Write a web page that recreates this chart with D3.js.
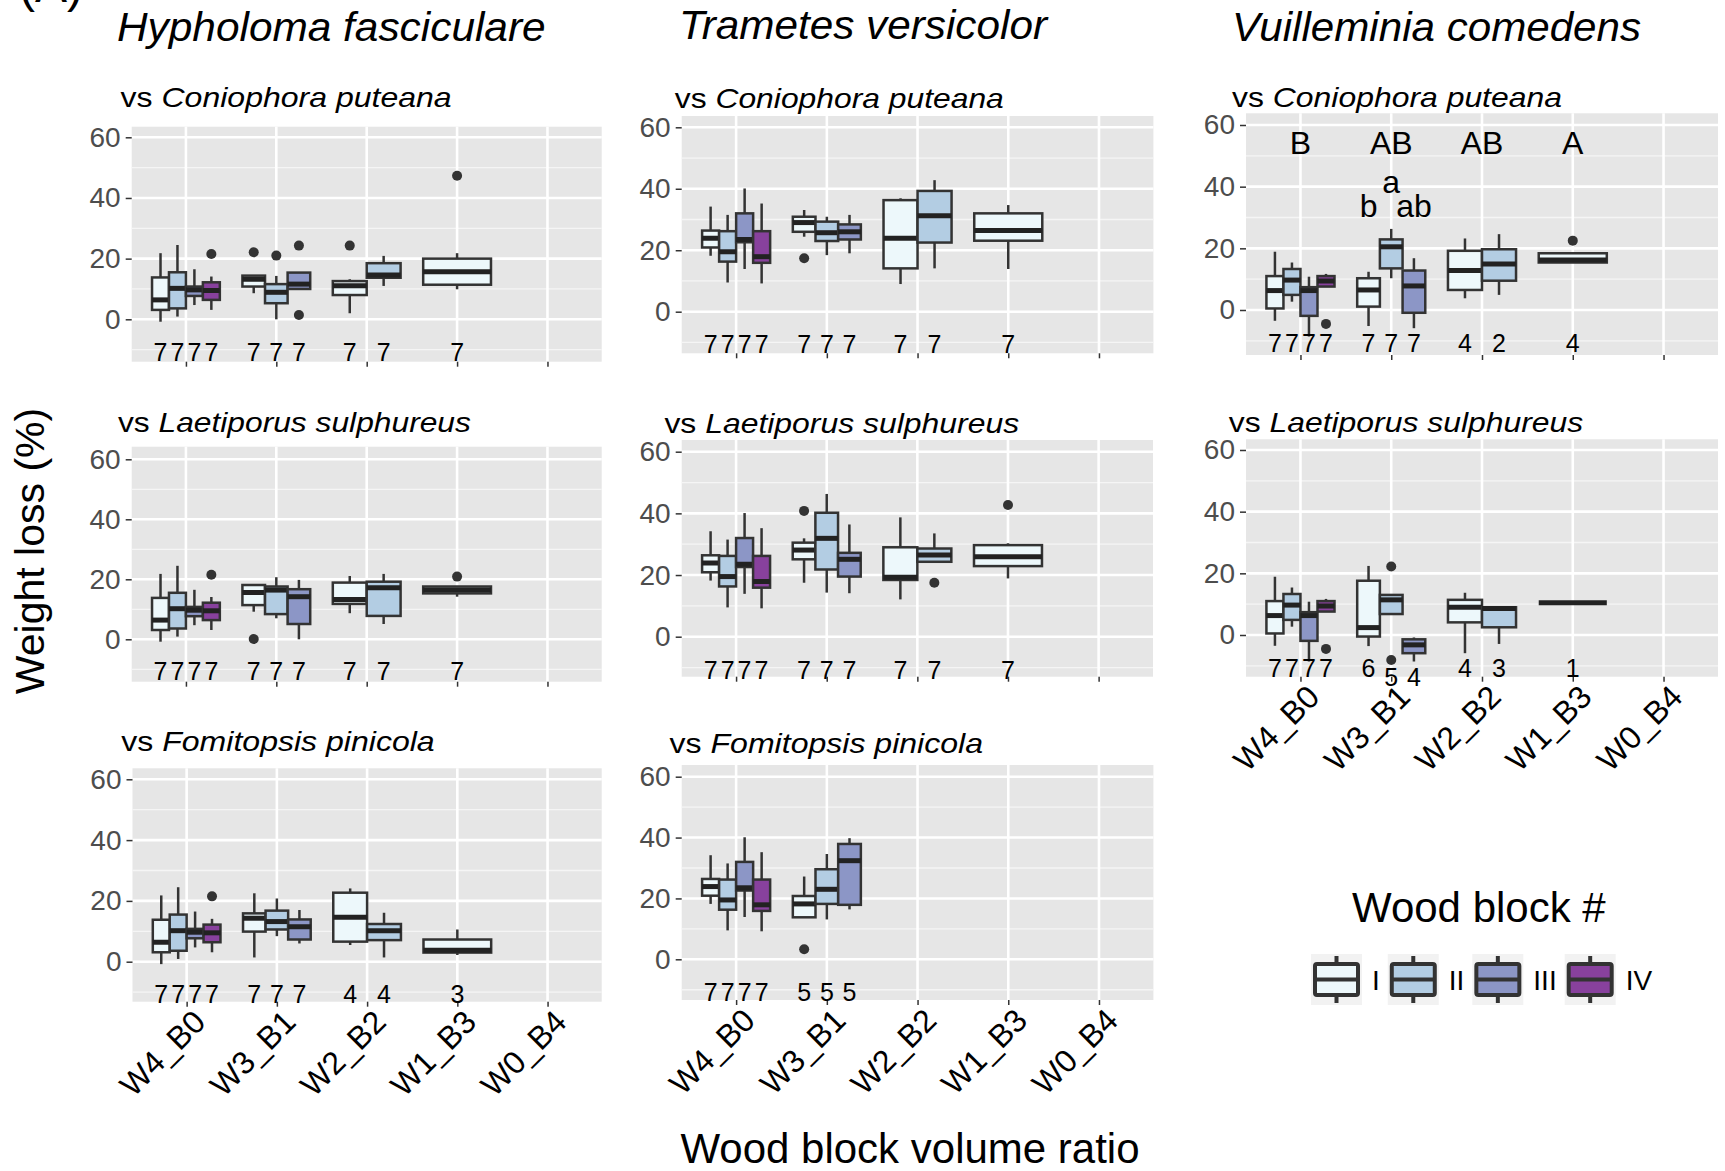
<!DOCTYPE html>
<html><head><meta charset="utf-8">
<script src="https://cdn.jsdelivr.net/npm/d3@7"></script>
<style>body{margin:0;background:#fff}</style>
</head><body>
<svg id="chart" width="1725" height="1171"></svg>
<script>
// ---------------- DATA ----------------
const categories = ["W4_B0", "W3_B1", "W2_B2", "W1_B3", "W0_B4"];
const blocks = ["I", "II", "III", "IV"];
const blockColors = ["#EDF8FB", "#B3CDE3", "#8C96C6", "#88419D"];
const yTicks = [0, 20, 40, 60];
const yMinor = [-10, 10, 30, 50];
const columnTitles = ["Hypholoma fasciculare", "Trametes versicolor", "Vuilleminia comedens"];
const opponents = ["Coniophora puteana", "Laetiporus sulphureus", "Fomitopsis pinicola"];

// box stats: [category, block, [lowerWhisker, q1, median, q3, upperWhisker], outliers]
const hfControl = [
  ["W4_B0", "I",   [-0.8, 3.1, 6.4, 13.8, 21.8], []],
  ["W4_B0", "II",  [0.9, 3.6, 10.2, 15.5, 24.5], []],
  ["W4_B0", "III", [4.7, 7.7, 9.7, 10.8, 16.5], []],
  ["W4_B0", "IV",  [3.1, 6.4, 9.5, 12.2, 14.1], [21.5]]
];
const hfVsCp = [
  ["W3_B1", "I",   [8.6, 10.8, 13.2, 14.4, 14.4], [22.1]],
  ["W3_B1", "II",  [0, 5.3, 8.9, 11.6, 14.3], [21]],
  ["W3_B1", "III", [10, 10, 11.6, 15.4, 15.4], [24.3, 1.4]],
  ["W2_B2", "I",   [2, 8, 11.1, 12.6, 13.2], [24.3]],
  ["W2_B2", "II",  [11, 13.7, 14.6, 18.5, 20.9], []],
  ["W1_B3", "I",   [9.9, 11.4, 15.7, 20, 21.8], [47.3]]
];
const hfVsLs = [
  ["W3_B1", "I",   [9.2, 11.4, 15.6, 18.1, 18.4], [0.1]],
  ["W3_B1", "II",  [7, 8.4, 16.4, 17.6, 20.7], []],
  ["W3_B1", "III", [0, 5.1, 14.2, 16.7, 19.8], []],
  ["W2_B2", "I",   [8.7, 11.8, 13.3, 18.9, 21.1], []],
  ["W2_B2", "II",  [5.1, 7.8, 17.2, 19.2, 21.8], []],
  ["W1_B3", "I",   [14.2, 15.3, 16.4, 17.6, 17.6], [20.9]]
];
const hfVsFp = [
  ["W3_B1", "I",   [1.4, 9.9, 14.3, 15.9, 22.5], []],
  ["W3_B1", "II",  [8.4, 10.6, 13.2, 16.8, 20.8], []],
  ["W3_B1", "III", [6, 7.3, 11.5, 13.9, 17], []],
  ["W2_B2", "I",   [5.5, 6.6, 14.6, 22.7, 24.1], []],
  ["W2_B2", "II",  [1.4, 7.1, 10.2, 12.4, 16.1], []],
  ["W1_B3", "I",   [2.2, 3, 3.8, 7.3, 10.6], []]
];
const tvControl = [
  ["W4_B0", "I",   [18.2, 20.9, 23.9, 26.4, 34.2], []],
  ["W4_B0", "II",  [9.5, 16.3, 19.5, 26.2, 31.5], []],
  ["W4_B0", "III", [13.9, 22.6, 23.5, 32, 40.1], []],
  ["W4_B0", "IV",  [9.2, 15.9, 17.9, 26.2, 35.2], []]
];
const tvVsCp = [
  ["W3_B1", "I",   [24.4, 26, 29, 30.9, 33.1], [17.4]],
  ["W3_B1", "II",  [18.4, 23, 25.7, 29.3, 30.9], []],
  ["W3_B1", "III", [19, 23.5, 26, 28.4, 31.5], []],
  ["W2_B2", "I",   [9, 14.1, 23.9, 36.3, 36.9], []],
  ["W2_B2", "II",  [14.1, 22.5, 31.2, 39.3, 42.8], []],
  ["W1_B3", "I",   [13.9, 23.1, 26.4, 32, 34.7], []]
];
const tvVsLs = [
  ["W3_B1", "I",   [17.5, 25.1, 28.1, 30.5, 31.9], [40.8]],
  ["W3_B1", "II",  [14.3, 21.8, 31.9, 40.2, 46.3], []],
  ["W3_B1", "III", [14.1, 19.5, 25.1, 27.2, 36.4], []],
  ["W2_B2", "I",   [12.1, 18.4, 19.3, 29, 38.7], []],
  ["W2_B2", "II",  [24.3, 24.3, 26.5, 28.6, 33.5], [17.5]],
  ["W1_B3", "I",   [18.9, 22.9, 25.9, 29.7, 30.3], [42.7]]
];
const tvVsFp = [
  ["W3_B1", "I",   [13.8, 13.8, 18.2, 20.8, 27.2], [3.3]],
  ["W3_B1", "II",  [13.1, 18.2, 23, 29.6, 34.6], []],
  ["W3_B1", "III", [16.4, 17.9, 32.4, 37.9, 39.8], []]
];
const vcControl = [
  ["W4_B0", "I",   [-3.5, 0.5, 6.3, 11, 18.9], []],
  ["W4_B0", "II",  [2.7, 4.9, 9.7, 13.3, 15.4], []],
  ["W4_B0", "III", [-8.6, -1.9, 6.3, 7.4, 10.8], []],
  ["W4_B0", "IV",  [7.6, 7.6, 9.4, 11, 11.7], [-4.5]]
];
const vcVsCp = [
  ["W3_B1", "I",   [-5.2, 1.1, 6.5, 10.3, 12.4], []],
  ["W3_B1", "II",  [10.3, 13.5, 20.5, 22.9, 26.3], []],
  ["W3_B1", "III", [-5.9, -0.9, 7.8, 12.8, 16.8], []],
  ["W2_B2", "I",   [3.8, 6.5, 12.8, 19.2, 23.2], []],
  ["W2_B2", "II",  [4.9, 9.5, 14.9, 19.7, 24.6], []],
  ["W1_B3", "I",   [15.4, 15.4, 16.2, 18.4, 18.4], [22.5]]
];
const vcVsLs = [
  ["W3_B1", "I",   [-3.6, -0.5, 2.4, 17.6, 22.4], []],
  ["W3_B1", "II",  [6.8, 6.8, 11.4, 13, 13.3], [22.2, -8.1]],
  ["W3_B1", "III", [-8.6, -5.9, -3.2, -1.4, -0.8], []],
  ["W2_B2", "I",   [-5.9, 4.1, 9, 11.4, 13.7], []],
  ["W2_B2", "II",  [-2.9, 2.5, 8.6, 9, 9], []],
  ["W1_B3", "I",   [10.5, 10.5, 10.5, 10.5, 10.5], []]
];

// sample sizes shown under the boxes: [category, n per box, label y value per box]
const nFull = [["W4_B0", [7, 7, 7, 7]], ["W3_B1", [7, 7, 7]], ["W2_B2", [7, 7]], ["W1_B3", [7]]];
const nVcCp = [["W4_B0", [7, 7, 7, 7]], ["W3_B1", [7, 7, 7]], ["W2_B2", [4, 2]], ["W1_B3", [4]]];
const nVcLs = [["W4_B0", [7, 7, 7, 7]], ["W3_B1", [6, 5, 4], [-13.6, -16.4, -16.4]], ["W2_B2", [4, 3]], ["W1_B3", [1]]];
const nHfFp = [["W4_B0", [7, 7, 7, 7]], ["W3_B1", [7, 7, 7]], ["W2_B2", [4, 4]], ["W1_B3", [3]]];
const nTvFp = [["W4_B0", [7, 7, 7, 7]], ["W3_B1", [5, 5, 5]]];
const nLabelY = -13.6;

// significance letters (Vuilleminia vs Coniophora)
const groupLetters = [["W4_B0", "B"], ["W3_B1", "AB"], ["W2_B2", "AB"], ["W1_B3", "A"]];
const groupLetterY = 50.7;
const blockLetters = [["W3_B1", 0, "b", 30.1], ["W3_B1", 1, "a", 37.9], ["W3_B1", 2, "ab", 30.1]];

// ---------------- LAYOUT ----------------
const FONT = "'Liberation Sans', Arial, Helvetica, sans-serif";
const panels = [
  {col: 0, opp: 0, boxes: hfControl.concat(hfVsCp), n: nFull, x0: 131.7, x1: 601.7, top: 126.7, bottom: 361.7, yZero: 319.3, ySixty: 137.3, sub: [120.6, 106.7, 331]},
  {col: 1, opp: 0, boxes: tvControl.concat(tvVsCp), n: nFull, x0: 681.7, x1: 1153.4, top: 116, bottom: 353.3, yZero: 311.7, ySixty: 127.3, sub: [674.8, 108.3, 329]},
  {col: 2, opp: 0, boxes: vcControl.concat(vcVsCp), n: nVcCp, x0: 1246, x1: 1718, top: 113.3, bottom: 355, yZero: 310, ySixty: 125, sub: [1232, 107.3, 330], letters: true},
  {col: 0, opp: 1, boxes: hfControl.concat(hfVsLs), n: nFull, x0: 131.7, x1: 601.7, top: 446.7, bottom: 681.7, yZero: 639.3, ySixty: 459.3, sub: [117.9, 431.7, 353]},
  {col: 1, opp: 1, boxes: tvControl.concat(tvVsLs), n: nFull, x0: 681.7, x1: 1153, top: 440, bottom: 676.7, yZero: 636.7, ySixty: 451.7, sub: [664.4, 433.3, 354.7]},
  {col: 2, opp: 1, boxes: vcControl.concat(vcVsLs), n: nVcLs, x0: 1246, x1: 1718, top: 439.3, bottom: 676.7, yZero: 635, ySixty: 450, sub: [1228.7, 432.3, 354.5], xLabels: true},
  {col: 0, opp: 2, boxes: hfControl.concat(hfVsFp), n: nHfFp, x0: 132.5, x1: 601.7, top: 768.3, bottom: 1001.7, yZero: 961.7, ySixty: 779.3, sub: [121.3, 750.7, 313.4], xLabels: true},
  {col: 1, opp: 2, boxes: tvControl.concat(tvVsFp), n: nTvFp, x0: 681.7, x1: 1153.4, top: 765, bottom: 1000, yZero: 959.3, ySixty: 776.7, sub: [669.6, 753.3, 313.4], xLabels: true}
];
const colTitlePos = [[117, 40.7, 428.6], [679, 38.5, 368], [1232, 40.7, 409]];

const svg = d3.select("#chart");
svg.append("rect").attr("width", 1725).attr("height", 1171).attr("fill", "#fff");

// cropped panel tag at top-left (only its lower edge is visible, as in the source figure)
svg.append("text").attr("x", 19).attr("y", 2).attr("font-family", FONT).attr("font-size", 48).text("(A)");

// column titles
columnTitles.forEach((t, i) => {
  const [x, y, len] = colTitlePos[i];
  svg.append("text").attr("x", x).attr("y", y).attr("font-family", FONT).attr("font-size", 40)
    .attr("font-style", "italic").attr("textLength", len).attr("lengthAdjust", "spacingAndGlyphs").text(t);
});

const colorOf = d3.scaleOrdinal().domain(blocks).range(blockColors);
const STROKE = "#333333";

panels.forEach(p => {
  const g = svg.append("g");
  const x = d3.scalePoint().domain(categories).range([p.x0, p.x1]).padding(0.6);
  const y = d3.scaleLinear().domain([0, 60]).range([p.yZero, p.ySixty]);
  const step = x.step();
  const dodge = 0.75 * step;

  // subtitle
  const sub = g.append("text").attr("x", p.sub[0]).attr("y", p.sub[1]).attr("font-family", FONT).attr("font-size", 28)
    .attr("textLength", p.sub[2]).attr("lengthAdjust", "spacingAndGlyphs");
  sub.append("tspan").text("vs ");
  sub.append("tspan").attr("font-style", "italic").text(opponents[p.opp]);

  // background + grid
  g.append("rect").attr("x", p.x0).attr("y", p.top).attr("width", p.x1 - p.x0).attr("height", p.bottom - p.top).attr("fill", "#E6E6E6");
  g.selectAll(".minor").data(yMinor).join("line")
    .attr("x1", p.x0).attr("x2", p.x1).attr("y1", d => y(d)).attr("y2", d => y(d))
    .attr("stroke", "#F5F5F5").attr("stroke-width", 1.3);
  g.selectAll(".major").data(yTicks).join("line")
    .attr("x1", p.x0).attr("x2", p.x1).attr("y1", d => y(d)).attr("y2", d => y(d))
    .attr("stroke", "#FFFFFF").attr("stroke-width", 2.6);
  g.selectAll(".vmajor").data(categories).join("line")
    .attr("x1", d => x(d)).attr("x2", d => x(d)).attr("y1", p.top).attr("y2", p.bottom)
    .attr("stroke", "#FFFFFF").attr("stroke-width", 2.6);

  // y axis
  const ya = g.append("g").attr("transform", `translate(${p.x0},0)`)
    .call(d3.axisLeft(y).tickValues(yTicks).tickSize(6).tickPadding(5));
  ya.select(".domain").remove();
  ya.selectAll(".tick line").attr("stroke", STROKE).attr("stroke-width", 1.5);
  ya.selectAll(".tick text").attr("font-size", 28).attr("font-family", FONT).attr("fill", "#4D4D4D");

  // x axis
  const xa = g.append("g").attr("transform", `translate(0,${p.bottom})`)
    .call(d3.axisBottom(x).tickSize(5).tickFormat(p.xLabels ? (d => d) : () => ""));
  xa.select(".domain").remove();
  xa.selectAll(".tick line").attr("stroke", STROKE).attr("stroke-width", 1.5);
  xa.selectAll(".tick text").attr("font-size", 32).attr("font-family", FONT).attr("fill", "#000")
    .attr("x", 0).attr("y", 0).attr("dy", "0.72em").attr("text-anchor", "end")
    .attr("transform", "translate(4,6) rotate(-45)");

  // boxes
  const byCat = d3.group(p.boxes, d => d[0]);
  const bx = g.append("g");
  byCat.forEach((list, cat) => {
    const k = list.length;
    const w = dodge / k;
    list.forEach((b, i) => {
      const [lo, q1, med, q3, hi] = b[2];
      const cx = x(cat) - dodge / 2 + (i + 0.5) * w;
      const bb = bx.append("g");
      bb.append("line").attr("x1", cx).attr("x2", cx).attr("y1", y(hi)).attr("y2", y(q3)).attr("stroke", STROKE).attr("stroke-width", 2.5);
      bb.append("line").attr("x1", cx).attr("x2", cx).attr("y1", y(q1)).attr("y2", y(lo)).attr("stroke", STROKE).attr("stroke-width", 2.5);
      bb.append("rect").attr("x", cx - w / 2).attr("y", y(q3)).attr("width", w).attr("height", Math.max(0, y(q1) - y(q3)))
        .attr("fill", colorOf(b[1])).attr("stroke", STROKE).attr("stroke-width", 2.5);
      bb.append("line").attr("x1", cx - w / 2).attr("x2", cx + w / 2).attr("y1", y(med)).attr("y2", y(med))
        .attr("stroke", "#222").attr("stroke-width", 5);
      b[3].forEach(o => bb.append("circle").attr("cx", cx).attr("cy", y(o)).attr("r", 5).attr("fill", STROKE));
    });
  });

  // sample sizes
  p.n.forEach(([cat, ns, ys]) => {
    const k = ns.length, w = dodge / k;
    ns.forEach((n, i) => {
      const cx = x(cat) - dodge / 2 + (i + 0.5) * w;
      g.append("text").attr("x", cx).attr("y", y(ys ? ys[i] : nLabelY)).attr("text-anchor", "middle")
        .attr("font-family", FONT).attr("font-size", 25).attr("fill", "#000").text(n);
    });
  });

  // letters
  if (p.letters) {
    groupLetters.forEach(([cat, t]) => {
      g.append("text").attr("x", x(cat)).attr("y", y(groupLetterY)).attr("text-anchor", "middle")
        .attr("font-family", FONT).attr("font-size", 32).text(t);
    });
    blockLetters.forEach(([cat, i, t, v]) => {
      const k = byCat.get(cat).length, w = dodge / k;
      const cx = x(cat) - dodge / 2 + (i + 0.5) * w;
      g.append("text").attr("x", cx).attr("y", y(v)).attr("text-anchor", "middle")
        .attr("font-family", FONT).attr("font-size", 32).text(t);
    });
  }
});

// axis titles
svg.append("text").attr("transform", "translate(44,551) rotate(-90)").attr("text-anchor", "middle")
  .attr("font-family", FONT).attr("font-size", 41).text("Weight loss (%)");
svg.append("text").attr("x", 910).attr("y", 1163).attr("text-anchor", "middle")
  .attr("font-family", FONT).attr("font-size", 42).text("Wood block volume ratio");

// legend
const lg = svg.append("g");
lg.append("text").attr("x", 1352).attr("y", 921.7).attr("font-family", FONT).attr("font-size", 42).text("Wood block #");
let lx = 1311;
const ky = 954, ks = 51;
blocks.forEach((b, i) => {
  const kg = lg.append("g");
  kg.append("rect").attr("x", lx).attr("y", ky).attr("width", ks).attr("height", ks).attr("fill", "#F2F2F2");
  const cx = lx + ks / 2;
  kg.append("line").attr("x1", cx).attr("x2", cx).attr("y1", ky + 2).attr("y2", ky + ks - 2).attr("stroke", STROKE).attr("stroke-width", 4);
  kg.append("rect").attr("x", lx + 4).attr("y", ky + 10).attr("width", ks - 8).attr("height", ks - 20)
    .attr("fill", blockColors[i]).attr("stroke", STROKE).attr("stroke-width", 4).attr("rx", 2);
  kg.append("line").attr("x1", lx + 4).attr("x2", lx + ks - 4).attr("y1", ky + ks / 2).attr("y2", ky + ks / 2).attr("stroke", STROKE).attr("stroke-width", 4);
  const t = lg.append("text").attr("x", lx + ks + 10).attr("y", ky + 36).attr("font-family", FONT).attr("font-size", 28).text(b);
  lx = lx + ks + 10 + t.node().getComputedTextLength() + 8;
});
</script>
</body></html>
